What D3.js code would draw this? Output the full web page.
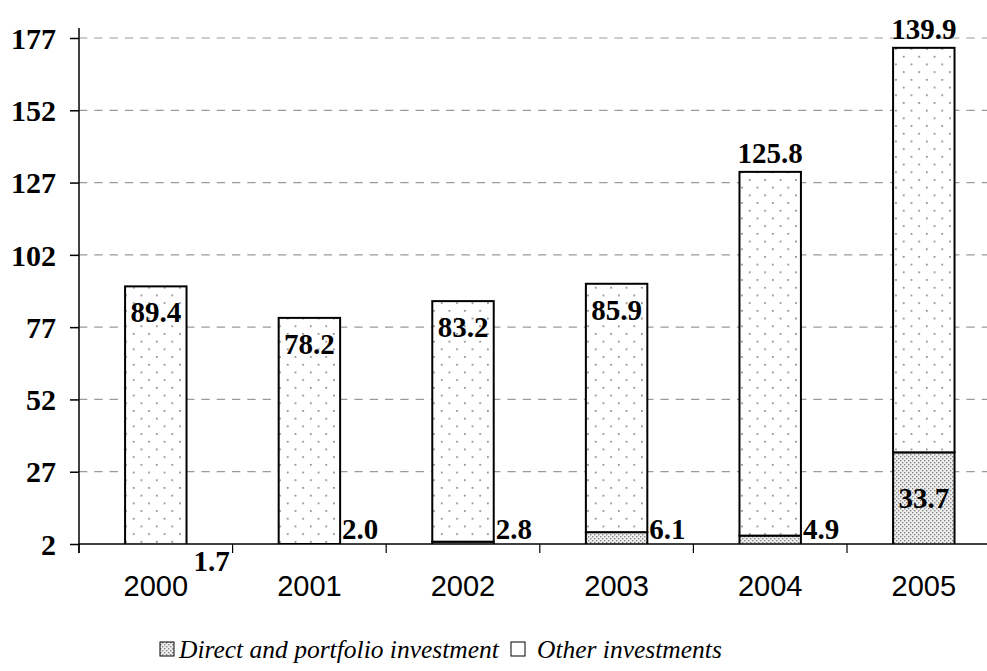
<!DOCTYPE html>
<html>
<head>
<meta charset="utf-8">
<script src="https://cdn.jsdelivr.net/npm/d3@7"></script>
<style>
  html, body { margin: 0; padding: 0; background: #fff; }
  svg { display: block; }
</style>
</head>
<body>
<svg id="chart" width="987" height="671"></svg>
<script>
// Capital inflows by year, two stacked components
const years = ["2000", "2001", "2002", "2003", "2004", "2005"];
const directPortfolio = [1.7, 2.0, 2.8, 6.1, 4.9, 33.7];
const otherInvestments = [89.4, 78.2, 83.2, 85.9, 125.8, 139.9];
const yTicks = [2, 27, 52, 77, 102, 127, 152, 177];
const seriesNames = ["Direct and portfolio investment", "Other investments"];

// Label placement for each bar ("in" = under the top edge, "out" = above it)
const otherLabelPlacement = ["in", "in", "in", "in", "out", "out"];
// Direct-investment labels: "side" = right of the bar, "below" = under the axis, "mid" = centred inside
const directLabelPlacement = ["below", "side", "side", "side", "side", "mid"];

const svg = d3.select("#chart");
const left = 79, baseY = 544, topY = 38;

const x = d3.scaleBand()
  .domain(years)
  .range([left, left + 6 * 153.6])
  .paddingInner(0.6)
  .paddingOuter(0.3);

const y = d3.scaleLinear().domain([2, 177]).range([baseY, topY]);

// Patterns
const defs = svg.append("defs");
const pOther = defs.append("pattern")
  .attr("id", "patOther").attr("patternUnits", "userSpaceOnUse")
  .attr("width", 15.4).attr("height", 15.4)
  .attr("x", 0).attr("y", 0);
pOther.append("rect").attr("width", 15.4).attr("height", 15.4).attr("fill", "#fff");
pOther.append("rect").attr("x", 2).attr("y", 2).attr("width", 1.6).attr("height", 1.6).attr("fill", "#777");
pOther.append("rect").attr("x", 9.7).attr("y", 9.7).attr("width", 1.6).attr("height", 1.6).attr("fill", "#777");

const pDirect = defs.append("pattern")
  .attr("id", "patDirect").attr("patternUnits", "userSpaceOnUse")
  .attr("width", 4).attr("height", 4);
pDirect.append("rect").attr("width", 4).attr("height", 4).attr("fill", "#eee");
pDirect.append("rect").attr("x", 0).attr("y", 0).attr("width", 1.4).attr("height", 1.4).attr("fill", "#888");
pDirect.append("rect").attr("x", 2).attr("y", 2).attr("width", 1.4).attr("height", 1.4).attr("fill", "#888");

defs.append("clipPath").attr("id", "plotClip")
  .append("rect").attr("x", left).attr("y", 0).attr("width", 987 - left).attr("height", baseY);

// Gridlines
svg.append("g")
  .selectAll("line")
  .data(yTicks.filter(d => d !== 2))
  .join("line")
  .attr("x1", left).attr("x2", 987)
  .attr("y1", d => y(d)).attr("y2", d => y(d))
  .attr("stroke", "#9a9a9a")
  .attr("stroke-width", 1.2)
  .attr("stroke-dasharray", "8.3,7");

// Stacked bars
const rows = years.map((yr, i) => ({ year: yr, direct: directPortfolio[i], other: otherInvestments[i], i }));
const bars = svg.append("g").attr("clip-path", "url(#plotClip)");

bars.selectAll("rect.direct")
  .data(rows)
  .join("rect")
  .attr("class", "direct")
  .attr("x", d => x(d.year))
  .attr("width", x.bandwidth())
  .attr("y", d => y(d.direct))
  .attr("height", d => y(0) - y(d.direct))
  .attr("fill", "url(#patDirect)")
  .attr("stroke", "#000")
  .attr("stroke-width", 2);

bars.selectAll("rect.other")
  .data(rows)
  .join("rect")
  .attr("class", "other")
  .attr("x", d => x(d.year))
  .attr("width", x.bandwidth())
  .attr("y", d => y(d.direct + d.other))
  .attr("height", d => y(d.direct) - y(d.direct + d.other))
  .attr("fill", "url(#patOther)")
  .attr("stroke", "#000")
  .attr("stroke-width", 2);

// Y axis
const yAxis = d3.axisLeft(y).tickValues(yTicks).tickSize(9).tickPadding(14).tickFormat(d3.format("d"));
const gy = svg.append("g").attr("transform", `translate(${left},0)`).call(yAxis);
gy.select(".domain").remove();
gy.selectAll(".tick line").attr("stroke", "#000").attr("stroke-width", 1.5);
gy.selectAll(".tick text")
  .attr("fill", "#000")
  .style("font-family", "'Liberation Serif', 'Times New Roman', serif")
  .style("font-weight", "bold")
  .style("font-size", "30px")
  .attr("dy", "0.34em");
svg.append("line")
  .attr("x1", left).attr("x2", left)
  .attr("y1", 28).attr("y2", baseY + 9)
  .attr("stroke", "#000").attr("stroke-width", 1.5);

// X axis
svg.append("line")
  .attr("x1", left).attr("x2", 987)
  .attr("y1", baseY).attr("y2", baseY)
  .attr("stroke", "#000").attr("stroke-width", 1.5);
const step = x.step();
const boundaries = d3.range(years.length + 1).map(k => left + k * step);
svg.append("g").selectAll("line")
  .data(boundaries.filter(b => b <= 987))
  .join("line")
  .attr("x1", d => d).attr("x2", d => d)
  .attr("y1", baseY).attr("y2", baseY + 9)
  .attr("stroke", "#000").attr("stroke-width", 1.2);

svg.append("g").selectAll("text")
  .data(years)
  .join("text")
  .attr("x", d => x(d) + x.bandwidth() / 2)
  .attr("y", 596)
  .attr("text-anchor", "middle")
  .style("font-family", "'Liberation Sans', Arial, sans-serif")
  .style("font-size", "29px")
  .attr("fill", "#000")
  .text(d => d);

// Value labels
const labelFont = "'Liberation Serif', 'Times New Roman', serif";
const labels = svg.append("g")
  .style("font-family", labelFont)
  .style("font-weight", "bold")
  .style("font-size", "29px")
  .attr("fill", "#000");

labels.selectAll("text.otherLbl")
  .data(rows)
  .join("text")
  .attr("class", "otherLbl")
  .attr("x", d => x(d.year) + x.bandwidth() / 2)
  .attr("y", d => {
    const t = y(d.direct + d.other);
    return otherLabelPlacement[d.i] === "in" ? t + 36 : t - 9;
  })
  .attr("text-anchor", "middle")
  .text(d => d.other.toFixed(1));

labels.selectAll("text.directLbl")
  .data(rows)
  .join("text")
  .attr("class", "directLbl")
  .attr("x", d => {
    const p = directLabelPlacement[d.i];
    if (p === "mid") return x(d.year) + x.bandwidth() / 2;
    return x(d.year) + x.bandwidth() + (p === "below" ? 7 : 2);
  })
  .attr("y", d => {
    const p = directLabelPlacement[d.i];
    if (p === "mid") return (y(d.direct) + baseY) / 2 + 10;
    if (p === "below") return 571;
    return 539;
  })
  .attr("text-anchor", d => directLabelPlacement[d.i] === "mid" ? "middle" : "start")
  .text(d => d.direct.toFixed(1));

// Legend
const legend = svg.append("g")
  .style("font-family", labelFont)
  .style("font-style", "italic")
  .style("font-size", "25.5px")
  .attr("fill", "#000");
const swatchFills = ["url(#patDirect)", "#fff"];
const legendX = [160, 511];
seriesNames.forEach((name, k) => {
  legend.append("rect")
    .attr("x", legendX[k]).attr("y", 642)
    .attr("width", 14).attr("height", 14)
    .attr("fill", swatchFills[k])
    .attr("stroke", "#000").attr("stroke-width", 1);
  legend.append("text")
    .attr("x", legendX[k] + (k === 0 ? 19 : 26)).attr("y", 658)
    .text(name);
});
</script>
</body>
</html>
